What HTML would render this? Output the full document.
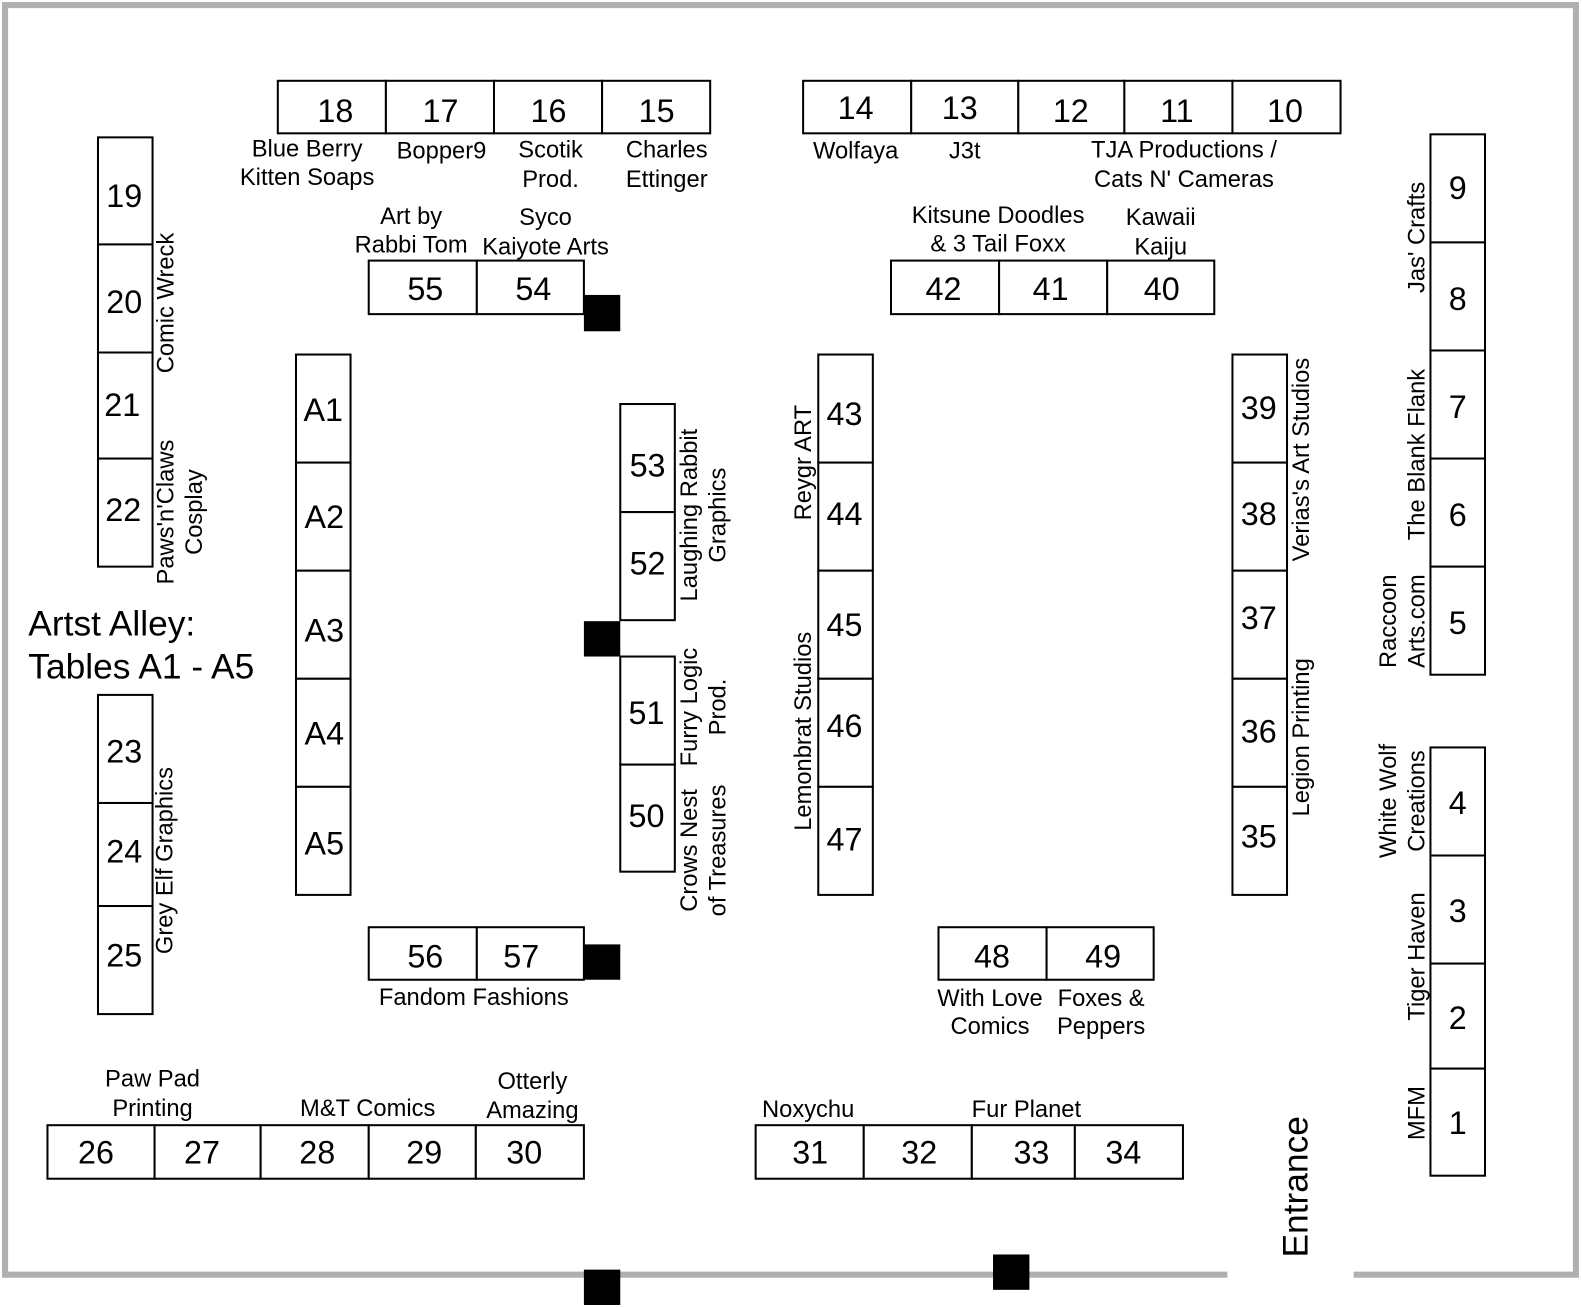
<!DOCTYPE html>
<html><head><meta charset="utf-8"><style>
html,body{margin:0;padding:0;background:#fff;}
svg{display:block;}
text{font-family:"Liberation Sans",Arial,sans-serif;fill:#000;}
.n{font-size:32px;text-anchor:middle;dominant-baseline:central;}
.l{font-size:23.5px;text-anchor:middle;dominant-baseline:central;}
rect.t{fill:#fff;stroke:#000;stroke-width:2;}
</style></head><body>
<svg width="1583" height="1307" viewBox="0 0 1567 1294" preserveAspectRatio="none" xmlns="http://www.w3.org/2000/svg">
<rect x="0" y="0" width="1567" height="1294" fill="#fff"/>
<path d="M1215 1262 L5 1262 L5 5 L1560 5 L1560 1262 L1340 1262" fill="none" stroke="#b0b0b0" stroke-width="6"/>
<rect x="578" y="292" width="36" height="36"/>
<rect x="578" y="615" width="36" height="35"/>
<rect x="578" y="935" width="36" height="35"/>
<rect x="578" y="1257" width="36" height="35"/>
<rect x="983" y="1242" width="36" height="35"/>

<rect class="t" x="275" y="80" width="107" height="52"/><text class="n" x="332" y="110">18</text>
<rect class="t" x="382" y="80" width="107" height="52"/><text class="n" x="436" y="110">17</text>
<rect class="t" x="489" y="80" width="107" height="52"/><text class="n" x="543" y="110">16</text>
<rect class="t" x="596" y="80" width="107" height="52"/><text class="n" x="650" y="110">15</text>
<text class="l" x="304" y="148">Blue Berry</text><text class="l" x="304" y="176">Kitten Soaps</text>
<text class="l" x="437" y="150">Bopper9</text>
<text class="l" x="545" y="149">Scotik</text><text class="l" x="545" y="178">Prod.</text>
<text class="l" x="660" y="149">Charles</text><text class="l" x="660" y="178">Ettinger</text>

<rect class="t" x="795" y="80" width="107" height="52"/><text class="n" x="847" y="107">14</text>
<rect class="t" x="902" y="80" width="106" height="52"/><text class="n" x="950" y="107">13</text>
<rect class="t" x="1008" y="80" width="105" height="52"/><text class="n" x="1060" y="110">12</text>
<rect class="t" x="1113" y="80" width="107" height="52"/><text class="n" x="1165" y="110">11</text>
<rect class="t" x="1220" y="80" width="107" height="52"/><text class="n" x="1272" y="110">10</text>
<text class="l" x="847" y="150">Wolfaya</text>
<text class="l" x="955" y="150">J3t</text>
<text class="l" x="1172" y="149">TJA Productions /</text><text class="l" x="1172" y="178">Cats N' Cameras</text>

<rect class="t" x="365" y="258" width="107" height="53"/><text class="n" x="421" y="286">55</text>
<rect class="t" x="472" y="258" width="106" height="53"/><text class="n" x="528" y="286">54</text>
<text class="l" x="407" y="215">Art by</text><text class="l" x="407" y="243">Rabbi Tom</text>
<text class="l" x="540" y="216">Syco</text><text class="l" x="540" y="245">Kaiyote Arts</text>

<rect class="t" x="882" y="258" width="107" height="53"/><text class="n" x="934" y="286">42</text>
<rect class="t" x="989" y="258" width="107" height="53"/><text class="n" x="1040" y="286">41</text>
<rect class="t" x="1096" y="258" width="106" height="53"/><text class="n" x="1150" y="286">40</text>
<text class="l" x="988" y="214">Kitsune Doodles</text><text class="l" x="988" y="242">&amp; 3 Tail Foxx</text>
<text class="l" x="1149" y="216">Kawaii</text><text class="l" x="1149" y="245">Kaiju</text>

<rect class="t" x="97" y="136" width="54" height="106"/><text class="n" x="123" y="194">19</text>
<rect class="t" x="97" y="242" width="54" height="107"/><text class="n" x="123" y="299">20</text>
<rect class="t" x="97" y="349" width="54" height="105"/><text class="n" x="121" y="401">21</text>
<rect class="t" x="97" y="454" width="54" height="107"/><text class="n" x="122" y="505">22</text>
<text class="l" transform="translate(165,300) rotate(-90)">Comic Wreck</text>
<text class="l" transform="translate(165,507) rotate(-90)">Paws'n'Claws</text>
<text class="l" transform="translate(193,507) rotate(-90)">Cosplay</text>

<text x="28" y="629" style="font-size:35px">Artst Alley:</text>
<text x="28" y="672" style="font-size:35px">Tables A1 - A5</text>

<rect class="t" x="97" y="688" width="54" height="107"/><text class="n" x="123" y="744">23</text>
<rect class="t" x="97" y="795" width="54" height="102"/><text class="n" x="123" y="843">24</text>
<rect class="t" x="97" y="897" width="54" height="107"/><text class="n" x="123" y="946">25</text>
<text class="l" transform="translate(164,852) rotate(-90)">Grey Elf Graphics</text>

<rect class="t" x="293" y="351" width="54" height="107"/><text class="n" x="320" y="406">A1</text>
<rect class="t" x="293" y="458" width="54" height="107"/><text class="n" x="321" y="512">A2</text>
<rect class="t" x="293" y="565" width="54" height="107"/><text class="n" x="321" y="624">A3</text>
<rect class="t" x="293" y="672" width="54" height="107"/><text class="n" x="321" y="726">A4</text>
<rect class="t" x="293" y="779" width="54" height="107"/><text class="n" x="321" y="835">A5</text>

<rect class="t" x="614" y="400" width="54" height="107"/><text class="n" x="641" y="461">53</text>
<rect class="t" x="614" y="507" width="54" height="107"/><text class="n" x="641" y="558">52</text>
<rect class="t" x="614" y="650" width="54" height="107"/><text class="n" x="640" y="706">51</text>
<rect class="t" x="614" y="757" width="54" height="106"/><text class="n" x="640" y="808">50</text>
<text class="l" transform="translate(683,510) rotate(-90)">Laughing Rabbit</text>
<text class="l" transform="translate(711,510) rotate(-90)">Graphics</text>
<text class="l" transform="translate(683,700) rotate(-90)">Furry Logic</text>
<text class="l" transform="translate(711,700) rotate(-90)">Prod.</text>
<text class="l" transform="translate(683,842) rotate(-90)">Crows Nest</text>
<text class="l" transform="translate(711,842) rotate(-90)">of Treasures</text>

<rect class="t" x="810" y="351" width="54" height="107"/><text class="n" x="836" y="410">43</text>
<rect class="t" x="810" y="458" width="54" height="107"/><text class="n" x="836" y="509">44</text>
<rect class="t" x="810" y="565" width="54" height="107"/><text class="n" x="836" y="619">45</text>
<rect class="t" x="810" y="672" width="54" height="107"/><text class="n" x="836" y="719">46</text>
<rect class="t" x="810" y="779" width="54" height="107"/><text class="n" x="836" y="831">47</text>
<text class="l" transform="translate(796,458) rotate(-90)">Reygr ART</text>
<text class="l" transform="translate(796,724) rotate(-90)">Lemonbrat Studios</text>

<rect class="t" x="1220" y="351" width="54" height="107"/><text class="n" x="1246" y="404">39</text>
<rect class="t" x="1220" y="458" width="54" height="107"/><text class="n" x="1246" y="509">38</text>
<rect class="t" x="1220" y="565" width="54" height="107"/><text class="n" x="1246" y="612">37</text>
<rect class="t" x="1220" y="672" width="54" height="107"/><text class="n" x="1246" y="724">36</text>
<rect class="t" x="1220" y="779" width="54" height="107"/><text class="n" x="1246" y="828">35</text>
<text class="l" transform="translate(1289,455) rotate(-90)">Verias's Art Studios</text>
<text class="l" transform="translate(1289,730) rotate(-90)">Legion Printing</text>

<rect class="t" x="1416" y="133" width="54" height="107"/><text class="n" x="1443" y="186">9</text>
<rect class="t" x="1416" y="240" width="54" height="107"/><text class="n" x="1443" y="296">8</text>
<rect class="t" x="1416" y="347" width="54" height="107"/><text class="n" x="1443" y="403">7</text>
<rect class="t" x="1416" y="454" width="54" height="107"/><text class="n" x="1443" y="510">6</text>
<rect class="t" x="1416" y="561" width="54" height="107"/><text class="n" x="1443" y="617">5</text>
<text class="l" transform="translate(1403,235) rotate(-90)">Jas' Crafts</text>
<text class="l" transform="translate(1403,450) rotate(-90)">The Blank Flank</text>
<text class="l" transform="translate(1375,615) rotate(-90)">Raccoon</text>
<text class="l" transform="translate(1403,615) rotate(-90)">Arts.com</text>

<rect class="t" x="1416" y="740" width="54" height="107"/><text class="n" x="1443" y="795">4</text>
<rect class="t" x="1416" y="847" width="54" height="107"/><text class="n" x="1443" y="902">3</text>
<rect class="t" x="1416" y="954" width="54" height="104"/><text class="n" x="1443" y="1008">2</text>
<rect class="t" x="1416" y="1058" width="54" height="106"/><text class="n" x="1443" y="1112">1</text>
<text class="l" transform="translate(1375,793) rotate(-90)">White Wolf</text>
<text class="l" transform="translate(1403,793) rotate(-90)">Creations</text>
<text class="l" transform="translate(1403,947) rotate(-90)">Tiger Haven</text>
<text class="l" transform="translate(1403,1102) rotate(-90)">MFM</text>

<rect class="t" x="365" y="918" width="107" height="52"/><text class="n" x="421" y="947">56</text>
<rect class="t" x="472" y="918" width="106" height="52"/><text class="n" x="516" y="947">57</text>
<text class="l" x="469" y="988">Fandom Fashions</text>

<rect class="t" x="929" y="918" width="107" height="52"/><text class="n" x="982" y="947">48</text>
<rect class="t" x="1036" y="918" width="106" height="52"/><text class="n" x="1092" y="947">49</text>
<text class="l" x="980" y="989">With Love</text><text class="l" x="980" y="1017">Comics</text>
<text class="l" x="1090" y="989">Foxes &amp;</text><text class="l" x="1090" y="1017">Peppers</text>

<rect class="t" x="47" y="1114" width="106" height="53"/><text class="n" x="95" y="1141">26</text>
<rect class="t" x="153" y="1114" width="105" height="53"/><text class="n" x="200" y="1141">27</text>
<rect class="t" x="258" y="1114" width="107" height="53"/><text class="n" x="314" y="1141">28</text>
<rect class="t" x="365" y="1114" width="106" height="53"/><text class="n" x="420" y="1141">29</text>
<rect class="t" x="471" y="1114" width="107" height="53"/><text class="n" x="519" y="1141">30</text>
<text class="l" x="151" y="1069">Paw Pad</text><text class="l" x="151" y="1098">Printing</text>
<text class="l" x="364" y="1098">M&amp;T Comics</text>
<text class="l" x="527" y="1071">Otterly</text><text class="l" x="527" y="1100">Amazing</text>

<rect class="t" x="748" y="1114" width="107" height="53"/><text class="n" x="802" y="1141">31</text>
<rect class="t" x="855" y="1114" width="107" height="53"/><text class="n" x="910" y="1141">32</text>
<rect class="t" x="962" y="1114" width="102" height="53"/><text class="n" x="1021" y="1141">33</text>
<rect class="t" x="1064" y="1114" width="107" height="53"/><text class="n" x="1112" y="1141">34</text>
<text class="l" x="800" y="1099">Noxychu</text>
<text class="l" x="1016" y="1099">Fur Planet</text>

<text class="l" style="font-size:35px" transform="translate(1283,1175) rotate(-90)">Entrance</text>
</svg>
</body></html>
